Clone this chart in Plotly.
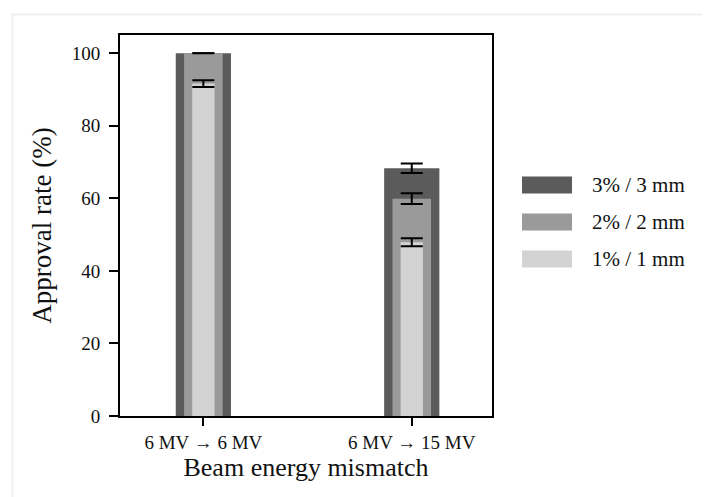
import plotly.graph_objects as go

categories = ["6 MV → 6 MV", "6 MV → 15 MV"]
series_names = ["3% / 3 mm", "2% / 2 mm", "1% / 1 mm"]
values_3 = [100.0, 68.3]
values_2 = [100.0, 59.9]
values_1 = [91.6, 47.9]
errors_3 = [0.0, 1.3]
errors_2 = [0.0, 1.5]
errors_1 = [0.9, 1.1]
y_ticks = [0, 20, 40, 60, 80, 100]

colors = ["#5b5b5b", "#9a9a9a", "#d3d3d3"]
widths = [0.265, 0.185, 0.107]
FONT = "Liberation Serif"

OFF = 8  # page offset of the figure
fig = go.Figure()
for name, vals, errs, col, w in zip(series_names, [values_3, values_2, values_1],
                                    [errors_3, errors_2, errors_1], colors, widths):
    fig.add_trace(go.Bar(
        x=categories, y=vals, name=name, width=w,
        marker=dict(color=col, line=dict(width=0)),
        error_y=dict(type="data", array=errs, visible=True, color="black",
                     thickness=2, width=11),
        showlegend=False,
    ))

# legend drawn as shapes + text (positions in screen px)
leg_y = [185, 222, 259]
pl, pt, pw, ph = 120 - OFF, 35 - OFF, 372, 381
for name, col, yy in zip(series_names, colors, leg_y):
    yy -= OFF
    x0 = (522 - OFF - pl) / pw
    x1 = (572 - OFF - pl) / pw
    y0 = (pt + ph - (yy - 8.5)) / ph
    y1 = (pt + ph - (yy + 8.5)) / ph
    fig.add_shape(type="rect", xref="paper", yref="paper", x0=x0, x1=x1, y0=y0, y1=y1,
                  fillcolor=col, line=dict(width=0))
    fig.add_annotation(xref="paper", yref="paper", x=(590 - OFF - pl) / pw,
                       y=(pt + ph - yy) / ph, text=name, showarrow=False,
                       xanchor="left", yanchor="middle",
                       font=dict(family=FONT, size=21, color="#111"))

# light outer frame
fig.add_shape(type="rect", xref="paper", yref="paper",
              x0=(12.5 - OFF - pl) / pw, x1=(760 - pl) / pw,
              y0=(pt + ph - 560) / ph, y1=(pt + ph - (14.5 - OFF)) / ph,
              line=dict(color="#efefef", width=2), fillcolor="rgba(0,0,0,0)", layer="below")

fig.update_layout(
    width=710, height=497,
    margin=dict(l=pl, r=710 - pl - pw, t=pt, b=497 - pt - ph),
    barmode="overlay",
    plot_bgcolor="white", paper_bgcolor="white",
    font=dict(family=FONT, color="#111"),
)
fig.update_xaxes(
    range=[-0.4, 1.385], showline=True, linecolor="black", linewidth=2, mirror=True,
    ticks="outside", ticklen=8, tickwidth=2, tickcolor="black",
    tickfont=dict(family=FONT, size=19),
    title=dict(text="Beam energy mismatch", font=dict(family=FONT, size=26), standoff=4),
    showgrid=False,
)
fig.update_yaxes(
    range=[0, 105], showline=True, linecolor="black", linewidth=2, mirror=True,
    ticks="outside", ticklen=9, tickwidth=2, tickcolor="black",
    tickvals=y_ticks, ticktext=[str(v) for v in y_ticks],
    tickfont=dict(family=FONT, size=19), ticklabelstandoff=5,
    title=dict(text="Approval rate (%)", font=dict(family=FONT, size=27), standoff=12),
    showgrid=False, zeroline=False,
)

fig.write_html("out.html")
